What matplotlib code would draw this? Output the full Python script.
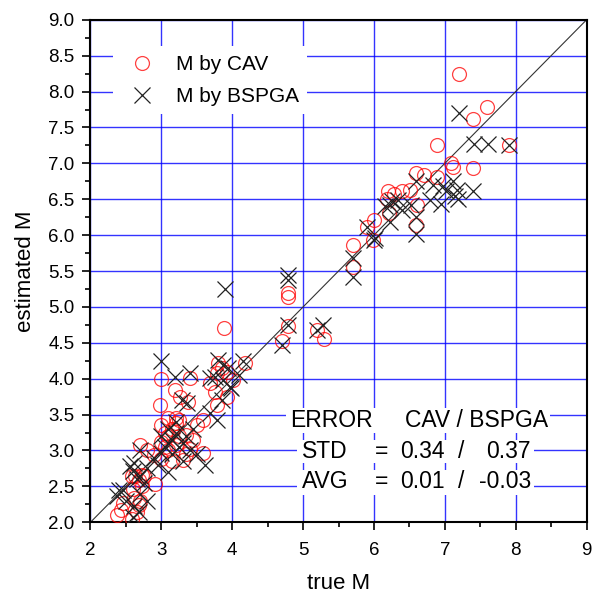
import matplotlib.pyplot as plt
from matplotlib.ticker import MultipleLocator
from matplotlib.patches import Rectangle

plt.rcParams['font.family'] = ['Liberation Sans', 'DejaVu Sans']

# M by CAV (circles)
cav_true = [2.37, 2.43, 2.46, 2.58, 2.68, 2.61, 2.65, 2.70,
            2.60, 2.68, 2.75, 2.63, 2.72, 2.91, 2.72, 2.58,
            2.70, 2.80, 2.89, 3.00, 3.05, 3.00, 3.10, 3.15, 3.20, 3.25, 3.10, 3.20,
            3.31, 3.35, 3.40, 3.35, 3.10, 3.20, 3.00, 3.59, 3.50, 3.15, 3.45, 3.25, 3.05,
            2.99, 3.40, 3.19, 3.27, 3.38, 2.98, 3.69, 3.80, 3.85, 3.92, 3.79, 4.18,
            3.76, 3.92, 4.01, 3.78, 3.59,
            3.89, 4.79, 4.79, 4.79, 4.70, 5.19, 5.29,
            5.71, 5.70, 5.99, 5.90, 6.00, 6.21, 6.59, 6.61, 6.18, 6.20, 6.29, 6.40, 6.51,
            6.59, 6.70, 6.89, 7.09, 7.11, 7.40, 6.89, 7.90, 7.40, 7.60, 7.20]
cav_est = [2.10, 2.17, 2.27, 2.04, 2.24, 2.34, 2.15, 2.30,
           2.47, 2.59, 2.64, 2.64, 2.50, 2.54, 2.66, 2.64,
           3.08, 3.00, 2.94, 2.88, 3.05, 3.12, 3.20, 3.30, 3.38, 3.42, 3.00, 3.08,
           2.87, 2.95, 3.02, 3.22, 3.45, 3.45, 3.35, 2.97, 3.35, 2.85, 3.15, 3.20, 3.25,
           4.00, 4.01, 3.84, 3.75, 3.68, 3.64, 3.94, 4.22, 4.15, 4.10, 4.08, 4.22,
           3.82, 3.75, 3.98, 3.64, 3.43,
           4.70, 5.19, 5.14, 4.73, 4.53, 4.68, 4.56,
           5.86, 5.56, 5.93, 6.12, 6.21, 6.31, 6.14, 6.42, 6.51, 6.61, 6.58, 6.61, 6.63,
           6.86, 6.84, 6.81, 7.00, 6.95, 6.93, 7.26, 7.25, 7.62, 7.78, 8.24]

# M by BSPGA (crosses)
bsp_true = [2.40, 2.46, 2.37, 2.50, 2.61, 2.68, 2.60, 2.65, 2.70, 2.60, 2.75, 2.70,
            2.80, 2.56, 2.61, 2.90, 3.00, 2.95, 3.05, 3.10, 3.15, 3.20, 3.25, 3.30,
            3.35, 3.10, 3.20, 3.00, 3.15, 3.30, 3.40, 3.62, 3.45, 3.50, 2.80, 3.10, 2.70,
            3.00, 3.19, 3.40, 3.29, 3.36, 3.69, 3.80, 3.87, 3.94, 3.76, 3.87, 3.97,
            4.15, 3.85, 3.99, 3.78, 3.69, 4.10,
            3.90, 4.79, 4.79, 4.79, 4.70, 5.20, 5.28, 5.70, 5.70,
            5.90, 6.00, 6.01, 6.22, 6.15, 6.25, 6.34, 6.39, 6.53, 6.60, 6.59, 6.60, 6.22,
            6.84, 6.98, 7.12, 7.17, 7.02, 7.14, 7.19, 6.79, 6.95, 7.40,
            7.20, 7.41, 7.61, 7.90]
bsp_est = [2.45, 2.45, 2.36, 2.30, 2.22, 2.15, 2.08, 2.60, 2.65, 2.72, 2.55, 2.40,
           2.30, 2.78, 2.82, 2.90, 2.96, 2.80, 3.05, 3.10, 3.15, 3.25, 3.05, 3.10,
           3.20, 3.30, 3.40, 3.20, 2.95, 2.85, 3.00, 2.80, 3.30, 2.95, 2.75, 2.70, 3.00,
           4.24, 4.03, 4.08, 3.70, 3.66, 4.01, 4.26, 4.19, 4.15, 4.03, 3.98, 3.89,
           4.25, 3.70, 3.87, 3.43, 3.52, 4.05,
           5.25, 5.45, 5.38, 4.75, 4.47, 4.68, 4.75, 5.68, 5.42,
           6.12, 5.93, 5.96, 6.19, 6.40, 6.47, 6.49, 6.35, 6.42, 6.26, 6.02, 6.75, 6.42,
           6.70, 6.68, 6.75, 6.63, 6.61, 6.54, 6.51, 6.49, 6.44, 6.61,
           7.70, 7.27, 7.27, 7.25]

fig = plt.figure(figsize=(6.02, 6.01), dpi=100)
ax = fig.add_axes([0.1503, 0.131, 0.824, 0.836])

ax.plot([2, 9], [2, 9], color='#333333', lw=0.8, zorder=2)
ax.plot(cav_true, cav_est, 'o', ms=10, mfc='none', mec='red', mew=0.9,
        alpha=0.75, label='M by CAV', zorder=3)
ax.plot(bsp_true, bsp_est, 'x', ms=12, color='#222222', mew=0.9,
        label='M by BSPGA', zorder=4)

ax.set_xlim(2, 9)
ax.set_ylim(2, 9)
ax.xaxis.set_major_locator(MultipleLocator(1))
ax.xaxis.set_minor_locator(MultipleLocator(0.5))
ax.yaxis.set_major_locator(MultipleLocator(0.5))
ax.yaxis.set_minor_locator(MultipleLocator(0.25))
ax.yaxis.set_major_formatter(plt.FormatStrFormatter('%.1f'))
ax.grid(True, which='major', color='#0000ff', lw=1.0, alpha=0.8, zorder=0)
ax.set_axisbelow(True)
ax.tick_params(which='major', direction='out', length=6, width=1.2, labelsize=13.5)
ax.tick_params(axis='x', which='major', pad=8)
ax.tick_params(axis='y', which='major', pad=5.5)
ax.tick_params(which='minor', direction='out', length=3.5, width=1.2)
for s in ax.spines.values():
    s.set_linewidth(1.5)

ax.set_xlabel('true M', fontsize=16, labelpad=10)
ax.set_ylabel('estimated M', fontsize=16, labelpad=9)

leg = ax.legend(loc='upper left', bbox_to_anchor=(0.046, 0.947), frameon=True,
                fontsize=15, handletextpad=0.6, labelspacing=0.64, borderaxespad=0,
                fancybox=False)
leg.get_frame().set_edgecolor('none')
leg.get_frame().set_facecolor('white')
leg.get_frame().set_alpha(1)

# white strips behind the error summary rows
for x0, x1, y0, y1 in [(286, 550, 408, 433), (297, 534, 440, 463), (297, 534, 470, 495)]:
    ax.add_patch(Rectangle((x0 / 602, 1 - y1 / 601), (x1 - x0) / 602, (y1 - y0) / 601,
                           transform=fig.transFigure, facecolor='white',
                           edgecolor='none', zorder=1))

def ftext(x, y, s, ha='left'):
    ax.text(x / 602, 1 - y / 601, s, fontsize=16.5, ha=ha, va='baseline',
            transform=fig.transFigure, zorder=5)

ftext(290, 427, 'ERROR')
ftext(405, 427, 'CAV / BSPGA')
ftext(302, 458, 'STD')
ftext(375, 458, '=')
ftext(400, 458, '0.34')
ftext(458, 458, '/')
ftext(531, 458, '0.37', ha='right')
ftext(302, 488, 'AVG')
ftext(375, 488, '=')
ftext(400, 488, '0.01')
ftext(458, 488, '/')
ftext(531, 488, '-0.03', ha='right')

fig.savefig('out.png', dpi=100)
